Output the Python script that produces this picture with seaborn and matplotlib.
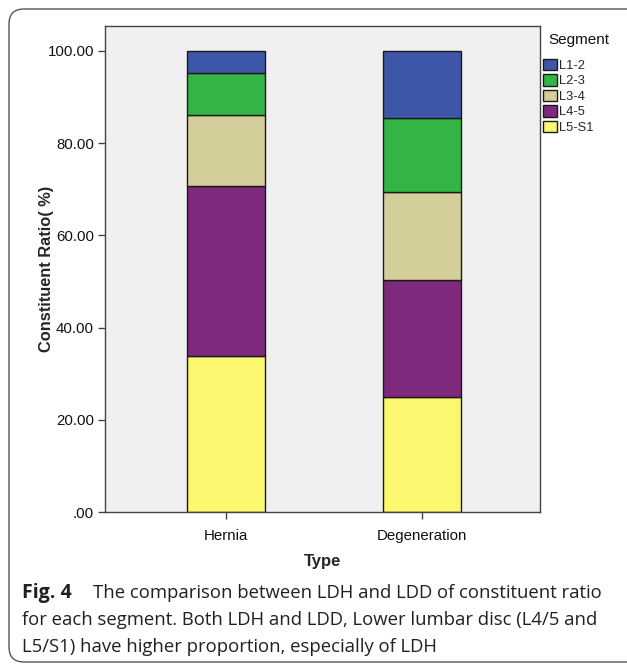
import matplotlib
matplotlib.use("Agg")
import matplotlib.pyplot as plt
from matplotlib.patches import FancyBboxPatch
from matplotlib.transforms import IdentityTransform
from matplotlib.ticker import FuncFormatter
import pandas as pd
import seaborn as sns

types = ["Hernia", "Degeneration"]
segments = ["L1-2", "L2-3", "L3-4", "L4-5", "L5-S1"]
hernia = [4.9, 8.9, 15.4, 37.0, 33.8]
degeneration = [14.5, 16.2, 18.9, 25.4, 25.0]
colors = ["#3d56a8", "#33b546", "#d4cf9a", "#7e297c", "#fbf76e"]
y_ticks = [0, 20, 40, 60, 80, 100]

df = pd.DataFrame({
    "Type": [t for t in types for _ in segments],
    "Segment": segments * 2,
    "Ratio": hernia + degeneration,
})

sns.set_style("white")
plt.rcParams["font.family"] = ["Liberation Sans", "DejaVu Sans"]

fig = plt.figure(figsize=(6.27, 6.64), dpi=100)
ax = fig.add_axes([105 / 627, 1 - 512 / 664, (540 - 105) / 627, (512 - 26) / 664])
ax.set_facecolor("#f0f0f0")

sns.histplot(
    data=df, x="Type", hue="Segment", weights="Ratio",
    multiple="stack", discrete=True, shrink=0.4,
    hue_order=segments, palette=colors, alpha=1,
    edgecolor="#1a1a1a", linewidth=1, ax=ax,
)

ax.set_xlim(-0.615, 1.6)
ax.set_ylim(0, 105.4)
ax.set_yticks(y_ticks)
ax.yaxis.set_major_formatter(FuncFormatter(lambda v, p: f"{v:.2f}".lstrip("0")))
ax.tick_params(axis="both", direction="out", length=5, width=1, color="#444444",
               labelsize=10.8, labelcolor="#111111", left=True, bottom=True)
ax.tick_params(axis="y", pad=3)
ax.tick_params(axis="x", pad=7)
for s in ax.spines.values():
    s.set_color("#444444")
    s.set_linewidth(1)

ax.set_ylabel("Constituent Ratio( %)", fontsize=11.8, fontweight="bold")
ax.yaxis.set_label_coords(-0.118, 0.5)
ax.set_xlabel("Type", fontsize=12, fontweight="bold")
ax.xaxis.set_label_coords(0.5, -0.086)

sns.move_legend(
    ax, "upper left", bbox_to_anchor=(1.0, (512 - 56) / 486), frameon=False,
    title=None, fontsize=9.3, handlelength=1.1, handleheight=1.0,
    handletextpad=0.15, labelspacing=0.18, borderaxespad=0.0, borderpad=0.2,
)
ax.text(548 / 627, 1 - 40 / 664, "Segment", transform=fig.transFigure,
        fontsize=11, va="center", ha="left", color="#111111")

# outer frame and caption
frame = FancyBboxPatch((9, 2), 700, 653, boxstyle="round,pad=0,rounding_size=15",
                       transform=IdentityTransform(), facecolor="none",
                       edgecolor="#555555", linewidth=1)
fig.patches.append(frame)

cap = ["Open Sans", "DejaVu Sans"]
fig.text(22 / 627, 1 - 593 / 664, "Fig. 4", family=cap, fontsize=14,
         fontweight="bold", va="center", color="#231f20")
fig.text(93 / 627, 1 - 593 / 664, "The comparison between LDH and LDD of constituent ratio",
         family=cap, fontsize=13.3, va="center", color="#231f20")
fig.text(22 / 627, 1 - 620 / 664,
         "for each segment. Both LDH and LDD, Lower lumbar disc (L4/5 and",
         family=cap, fontsize=13.3, va="center", color="#231f20")
fig.text(22 / 627, 1 - 647 / 664, "L5/S1) have higher proportion, especially of LDH",
         family=cap, fontsize=13.3, va="center", color="#231f20")

fig.savefig("out.png", dpi=100)
